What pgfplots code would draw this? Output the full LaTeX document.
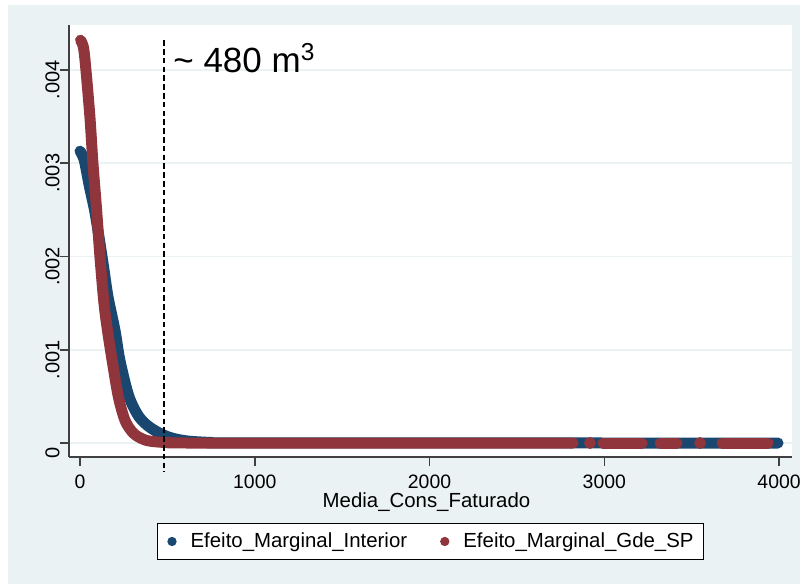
\documentclass[border=0pt]{standalone}
\usepackage{fontspec}
\setmainfont{Liberation Sans}
\usepackage{pgfplots}
\pgfplotsset{compat=1.18}
\definecolor{bgc}{HTML}{EAF2F3}
\definecolor{navyS}{HTML}{1A476F}
\definecolor{maroonS}{HTML}{90353B}
\begin{document}
\begin{tikzpicture}
\useasboundingbox (-34.5pt,-63.5pt) rectangle (365.5pt,228.5pt);
\fill[bgc] (-30.5pt,-63.5pt) rectangle (365.5pt,226pt);
\begin{axis}[
  at={(0pt,0pt)}, anchor=south west,
  scale only axis, width=361.5pt, height=216pt,
  xmin=-63, xmax=4074, ymin=-0.00015, ymax=0.004483,
  axis lines=left, axis line style={-, black!75, line width=1pt},
  axis background/.style={fill=white},
  clip=false,
  tick align=outside, major tick length=4.5pt,
  tick style={black!75, line width=0.8pt},
  xtick={0,1000,2000,3000,4000}, xticklabels={0,1000,2000,3000,4000},
  ytick={0,0.001,0.002,0.003,0.004}, yticklabels={0,.001,.002,.003,.004},
  scaled y ticks=false, scaled x ticks=false,
  minor tick num=0,
  ymajorgrids, grid style={bgc, line width=0.9pt},
  /pgf/number format/assume math mode=true,
  yticklabel style={rotate=90, anchor=south, inner sep=0pt, xshift=-5pt, font=\fontsize{10}{12}\selectfont},
  xticklabel style={anchor=north, inner sep=0pt, yshift=-4.5pt, font=\fontsize{9.7}{12}\selectfont},
  xlabel={Media\_Cons\_Faturado},
  xlabel style={at={(axis description cs:0.5,0)}, anchor=north, inner sep=0pt, yshift=-17.5pt, xshift=-2pt, font=\fontsize{10.2}{12}\selectfont},
  legend columns=2,
  legend style={at={(0.5,0)}, anchor=north, yshift=-33pt, draw=black, line width=0.6pt, fill=white,
    inner xsep=5pt, inner ysep=4.5pt, font=\fontsize{10.2}{12}\selectfont,
    nodes={inner xsep=0pt, inner ysep=0pt},
    /tikz/every odd column/.append style={column sep=7pt},
    /tikz/every even column/.append style={column sep=16.5pt}},
]
% blue curve (Interior)
\addplot[forget plot, navyS, line width=5.5pt, line cap=round, line join=round, smooth, tension=0.5] coordinates {
(0,0.00313) (10,0.00310) (26,0.00302) (54,0.00275) (83,0.00250) (106,0.00224)
(134,0.00190) (160,0.00157) (200,0.00121) (229,0.00088) (280,0.00050) (338,0.00028)
(406,0.00016) (498,0.00007) (600,0.000025) (750,0.000006) (1000,0.000001) (3994,0)
};
% red curve (Gde SP)
\addplot[forget plot, maroonS, line width=5.5pt, line cap=round, line join=round, smooth, tension=0.5] coordinates {
(3,0.00432) (20,0.00424) (34,0.00400) (57,0.00349) (74,0.00300) (95,0.00250)
(114,0.00200) (137,0.00150) (157,0.00121) (186,0.00086) (220,0.00049) (258,0.00024)
(303,0.00011) (350,0.00005) (400,0.00002) (515,0.000003) (700,0) (2821,0)
};
% red tail segments
\addplot[forget plot, maroonS, line width=5.5pt, line cap=round, unbounded coords=jump] coordinates {
(2993,0) (3216,0) (3260,nan) (3320,0) (3416,0) (3500,nan) (3674,0) (3937,0)
};
% red isolated points
\addplot[forget plot, only marks, mark=*, mark size=2.75pt, maroonS] coordinates {
(2918,0) (3548,0)
};
% threshold line
\draw[black, line width=1pt, dash pattern=on 2.8pt off 1.6pt] (axis cs:480,0.00432) -- (axis cs:480,-0.00031);
\node[anchor=base west, inner sep=0pt, font=\fontsize{17.5}{21}\selectfont] at (axis cs:532,0.00397) {\textasciitilde\ 480 m\textsuperscript{3}};
% legend
\addlegendimage{legend image code/.code={\fill[navyS] (2pt,0pt) circle (2pt);}}
\addlegendentry{Efeito\_Marginal\_Interior}
\addlegendimage{legend image code/.code={\fill[maroonS] (2pt,0pt) circle (2pt);}}
\addlegendentry{Efeito\_Marginal\_Gde\_SP}
\end{axis}
\end{tikzpicture}
\end{document}
